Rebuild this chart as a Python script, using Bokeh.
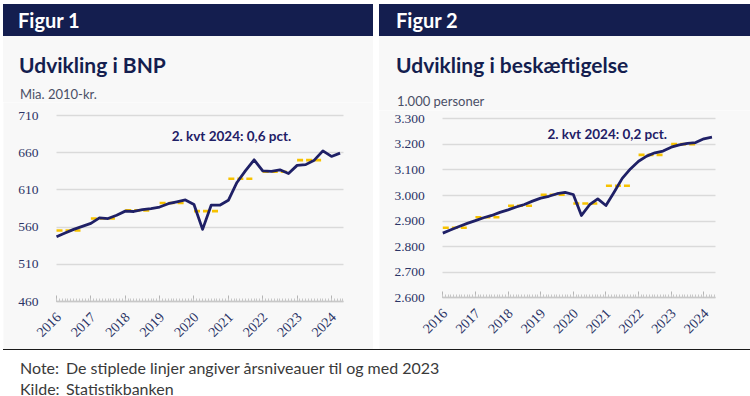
import math
from bokeh.plotting import figure
from bokeh.models import Div, Label, LabelSet, FixedTicker, Range1d, ColumnDataSource, Spacer
from bokeh.layouts import row, column
from bokeh.core.properties import value
from bokeh.embed import file_html
from bokeh.resources import INLINE

# ---------------- data ----------------
quarter_labels = [f"{y}K{q}" for y in range(2016, 2025) for q in range(1, 5)][:34]
gdp = [547, 552, 557, 561, 565, 572.5, 571.5, 576, 581.5, 581, 583.5, 585,
       587, 591.5, 594, 596.5, 590.5, 557, 589.5, 589.5, 596, 620, 636, 650.5,
       635.5, 635, 637, 632, 643, 644, 650, 662.5, 655, 659.5]
emp = [2853, 2866, 2879, 2891, 2902, 2913, 2922, 2934, 2944, 2955, 2965, 2978,
       2990, 2997, 3007, 3012, 3004, 2922, 2964, 2987, 2961, 3013, 3067, 3104,
       3134, 3154, 3167, 3174, 3189, 3198, 3204, 3207, 3222, 3228]
avg_years = [2016, 2017, 2018, 2019, 2020, 2021, 2022, 2023]
gdp_avg = [555.5, 571.5, 582.5, 592.5, 581.5, 625, 634.5, 650]
emp_avg = [2874, 2915, 2960, 3003, 2969, 3038, 3159, 3201]
year_ticks = [2016, 2017, 2018, 2019, 2020, 2021, 2022, 2023, 2024]
year_labels = [str(y) for y in year_ticks]
gdp_ticks = [460, 510, 560, 610, 660, 710]
emp_ticks = [2600, 2700, 2800, 2900, 3000, 3100, 3200, 3300]
emp_tick_labels = ["2.600", "2.700", "2.800", "2.900", "3.000", "3.100", "3.200", "3.300"]


def qpos(lbl):
    y, q = lbl.split("K")
    return int(y) + (int(q) - 1) / 4


xq = [qpos(l) for l in quarter_labels]
X_END = 2024.35

NAVY = "#141e4f"
LINE = "#1f2066"
GOLD = "#f7c200"
BG = "#f8f8f8"
TICKC = "#2b3466"
SERIF = "Liberation Serif"


def header(text, w, left):
    html = (f'<div style="width:{w}px;height:32px;background:{NAVY};color:#fff;'
            f'font-family:Lato;font-weight:700;font-size:20px;line-height:32px;'
            f'padding-left:{left}px;box-sizing:border-box;white-space:nowrap">{text}</div>')
    return Div(text=html, width=w, height=32, margin=0)


def title_div(title, unit, w, h, unit_top, left):
    html = (f'<div style="position:relative;width:{w}px;height:{h}px;background:{BG};font-family:Lato;overflow:visible">'
            f'<div style="position:absolute;left:{left}px;top:16px;font-size:21px;line-height:1.2;'
            f'font-weight:700;color:{NAVY};white-space:nowrap">{title}</div>'
            f'<div style="position:absolute;left:{left+1}px;top:{unit_top}px;font-size:13px;line-height:1.2;'
            f'color:#4a4f66;white-space:nowrap">{unit}</div></div>')
    return Div(text=html, width=w, height=h, margin=0)


def make_fig(w, h, xr, yr, y_lo, y_hi, yticks, ys, avgs, ann_x, ann_y, ann_text, overrides=None):
    p = figure(width=w, height=h, x_range=xr, y_range=yr,
               output_backend="svg", toolbar_location=None)
    p.min_border = 0
    p.min_border_left = p.min_border_right = p.min_border_top = p.min_border_bottom = 0
    p.background_fill_color = BG
    p.border_fill_color = BG
    p.outline_line_color = None
    p.xgrid.visible = False

    g = p.ygrid[0]
    g.grid_line_color = "#dadada"
    g.grid_line_width = 1.5
    g.bounds = (y_lo, y_hi)
    try:
        g.cross_bounds = (2016, X_END)
    except AttributeError:
        g.visible = False
        p.segment(x0=[2016] * len(yticks), x1=[X_END] * len(yticks), y0=yticks, y1=yticks,
                  line_color="#dadada", line_width=1.5)

    minor = [y + m / 12 for y in range(2016, 2025) for m in range(12) if y + m / 12 <= X_END]
    xa = p.xaxis[0]
    xa.fixed_location = y_lo
    xa.bounds = (2016, X_END)
    xa.ticker = FixedTicker(ticks=year_ticks, minor_ticks=minor)
    xa.axis_line_color = "#c8c8c8"
    xa.axis_line_width = 1.5
    xa.major_tick_line_color = "#b5b5b5"
    xa.major_tick_in = 6
    xa.major_tick_out = 0
    xa.minor_tick_line_color = "#c8c8c8"
    xa.minor_tick_in = 3
    xa.minor_tick_out = 0
    xa.major_label_text_color = None

    ya = p.yaxis[0]
    ya.fixed_location = 2016
    ya.bounds = (y_lo, y_hi)
    ya.ticker = FixedTicker(ticks=yticks)
    ya.axis_line_color = None
    ya.major_tick_line_color = None
    ya.minor_tick_line_color = None
    ya.major_label_standoff = 12
    ya.major_label_text_font = SERIF
    ya.major_label_text_font_size = "13.5px"
    ya.major_label_text_color = TICKC
    if overrides:
        ya.major_label_overrides = overrides

    # rotated year labels hanging from the x-axis ticks
    src = ColumnDataSource(dict(x=year_ticks, y=[y_lo] * len(year_ticks), t=year_labels))
    p.add_layout(LabelSet(x="x", y="y", text="t", source=src, angle=math.pi / 4,
                          x_offset=2, y_offset=-13, text_align="right", text_baseline="middle",
                          text_font=value(SERIF), text_font_size="14px", text_color=TICKC))

    p.segment(x0=avg_years, x1=[y + 0.75 for y in avg_years], y0=avgs, y1=avgs,
              line_color=GOLD, line_width=2.6, line_dash="6 3")
    p.line(xq, ys, line_color=LINE, line_width=2.8, line_join="round")

    p.add_layout(Label(x=ann_x, y=ann_y, text=ann_text, text_align="center",
                       text_baseline="middle", text_font="Lato", text_font_style="bold",
                       text_font_size="13.5px", text_color=LINE))
    return p


W1, W2 = 370, 371
# left panel: figure spans y 102..349, frame = whole figure
p1 = make_fig(W1, 247, Range1d(2014.458, 2025.223), Range1d(395.5, 727.5), 460, 710,
              gdp_ticks, gdp, gdp_avg, 2021.09, 681.8, "2. kvt 2024: 0,6 pct.")
# right panel: figure spans y 110..349
p2 = make_fig(W2, 239, Range1d(2014.06, 2025.431), Range1d(2397.8, 3332.5), 2600, 3300,
              emp_ticks, emp, emp_avg, 2021.04, 3242, "2. kvt 2024: 0,2 pct.",
              overrides={t: l for t, l in zip(emp_ticks, emp_tick_labels)})

col1 = column(header("Figur 1", W1, 15), title_div("Udvikling i BNP", "Mia. 2010-kr.", W1, 66, 51, 16), p1, spacing=0)
col2 = column(header("Figur 2", W2, 17), title_div("Udvikling i beskæftigelse", "1.000 personer", W2, 74, 58, 17), p2, spacing=0)
top = row(Spacer(width=3, height=10), col1, Spacer(width=6, height=10), col2, spacing=0)

footer_html = ('<div style="width:747px;height:47px;border-top:1.5px solid #1a1a1a;box-sizing:border-box;'
               'padding-top:6.5px;padding-left:17px;font-family:Lato;font-size:16px;line-height:21px;color:#3a3a3a;white-space:nowrap">'
               '<div><span style="display:inline-block;width:46px">Note:</span>De stiplede linjer angiver årsniveauer til og med 2023</div>'
               '<div><span style="display:inline-block;width:46px">Kilde:</span>Statistikbanken</div></div>')
footer = Div(text=footer_html, width=747, height=47, margin=0)
bottom = row(Spacer(width=3, height=10), footer, spacing=0)

layout = column(Spacer(width=10, height=4), top, bottom, spacing=0)

open("out.html", "w").write(file_html(layout, INLINE))
